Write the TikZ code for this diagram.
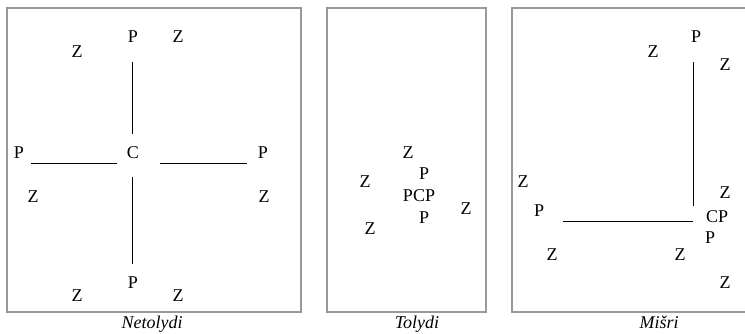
\documentclass[tikz,border=0pt]{standalone}
\usepackage{fontspec}
\setmainfont{Liberation Serif}
\usetikzlibrary{calc}
\tikzset{lbl/.style={inner sep=0, font=\fontsize{13.5}{16}\selectfont}}
\tikzset{capt/.style={inner sep=0, anchor=base, font=\fontsize{13.5}{16}\selectfont\itshape}}
\tikzset{frame/.style={draw=black!40, line width=0.8pt}}
\tikzset{link/.style={black, line width=0.75pt}}

\begin{document}
\begin{tikzpicture}[x=0.75pt, y=-0.75pt]
\useasboundingbox (0,0) rectangle (745,333);
% frames
\draw[frame] (7,8) rectangle (301,312);
\draw[frame] (327,8) rectangle (486,312);
\draw[frame] (512,8) rectangle (748,312);

% Netolydi
\node[lbl] (c1) at (133,153) {C};
\node[lbl] (p1t) at (133,37) {P};
\node[lbl] (p1b) at (133,283) {P};
\node[lbl] (p1l) at (19,153) {P};
\node[lbl] (p1r) at (263,153) {P};
\foreach \x/\y [count=\i] in {77/52, 178/37, 33/197, 264/197, 77/296, 178/296} {
 \node[lbl] (z1\i) at (\x,\y) {Z};
}
\draw[link, shorten <=18.75pt, shorten >=14.25pt] ([xshift=-0.75pt]p1t.center) -- ([xshift=-0.75pt]c1.center);
\draw[link, shorten <=18pt, shorten >=14.25pt] ([xshift=-0.75pt]c1.center) -- ([xshift=-0.75pt]p1b.center);
\draw[link, shorten <=9pt, shorten >=12pt] ([yshift=-7.5pt]p1l.center) -- ([yshift=-7.5pt]c1.center);
\draw[link, shorten <=20.25pt, shorten >=12pt] ([yshift=-7.5pt]c1.center) -- ([yshift=-7.5pt]p1r.center);
\node[capt] (cap1) at (152,328) {Netolydi};

% Tolydi
\node[lbl] (pcp) at (419,196) {PCP};
\node[lbl] (p2t) at (424,174) {P};
\node[lbl] (p2b) at (424,218) {P};
\foreach \x/\y [count=\i] in {408/153, 365/182, 466/209, 370/229} {
 \node[lbl] (z2\i) at (\x,\y) {Z};
}
\node[capt] (cap2) at (417,328) {Tolydi};

% Misri
\node[lbl] (cp) at (717,217) {CP};
\node[lbl] (p3t) at (696,37) {P};
\node[lbl] (p3l) at (539,211) {P};
\node[lbl] (p3b) at (710,238) {P};
\foreach \x/\y [count=\i] in {653/52, 725/65, 523/182, 725/193, 552/255, 680/255, 725/283} {
 \node[lbl] (z3\i) at (\x,\y) {Z};
}
\draw[link, shorten <=18.75pt, shorten >=8.25pt] ([xshift=-2.25pt]p3t.center) -- ([xshift=-2.25pt]p3t.center |- cp.center);
\draw[link, shorten <=18pt, shorten >=18pt] ([yshift=-3pt]p3l.center |- cp.center) -- ([yshift=-3pt]cp.center);
\node[capt] (cap3) at (659,328) {Mišri};
\end{tikzpicture}
\end{document}
